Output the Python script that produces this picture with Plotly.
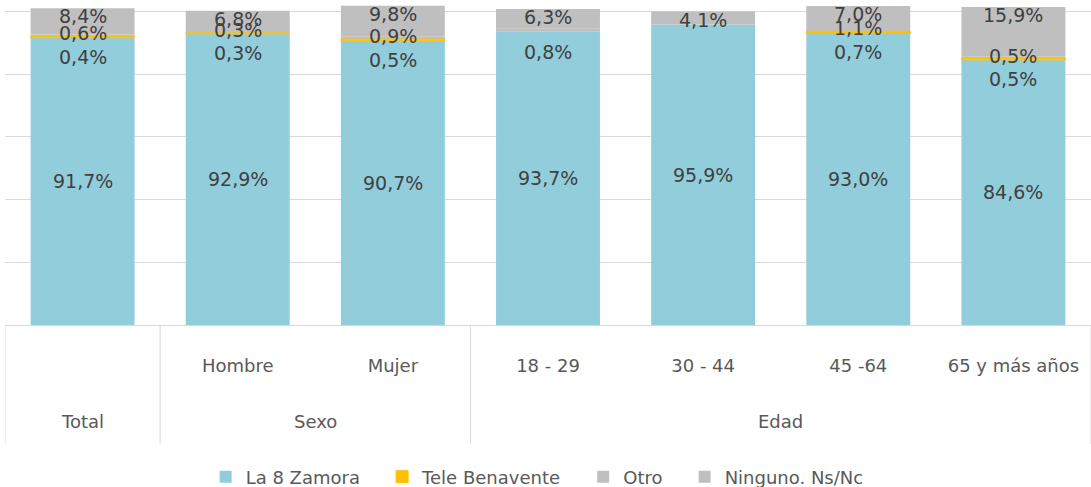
import plotly.graph_objects as go

# Data
categories = ["Total", "Hombre", "Mujer", "18 - 29", "30 - 44", "45 -64", "65 y más años"]
tick_labels = ["", "Hombre", "Mujer", "18 - 29", "30 - 44", "45 -64", "65 y más años"]
groups = ["Total", "Sexo", "Sexo", "Edad", "Edad", "Edad", "Edad"]

la8_zamora = [91.7, 92.9, 90.7, 93.7, 95.9, 93.0, 84.6]
tele_benavente = [0.4, 0.3, 0.5, 0.0, 0.0, 0.7, 0.5]
otro = [0.6, 0.3, 0.9, 0.8, 0.0, 1.1, 0.5]
ninguno = [8.4, 6.8, 9.8, 6.3, 4.1, 7.0, 15.9]

# Colors
COLORS = {
    'blue': '#92CDDC',
    'yellow': '#FFC000',
    'gray': '#BFBFBF',
    'grid': '#D9D9D9',
    'label': '#404040',
    'axis_text': '#595959',
}
FONT = "DejaVu Sans"
FS_LABEL = 19
FS_AXIS = 18

series = [
    ("La 8 Zamora", la8_zamora, COLORS['blue']),
    ("Tele Benavente", tele_benavente, COLORS['yellow']),
    ("Otro", otro, COLORS['gray']),
    ("Ninguno. Ns/Nc", ninguno, COLORS['gray']),
]

# stack by hand (explicit bases) so the thin yellow slices can be drawn last
bases = []
running = [0.0] * len(categories)
for _, vals, _ in series:
    bases.append(list(running))
    running = [r + v for r, v in zip(running, vals)]

draw_order = [0, 2, 3, 1]
fig = go.Figure()
for k in draw_order:
    name, vals, color = series[k]
    pad = "\u00a0" * 3 if k < len(series) - 1 else ""  # wider legend spacing
    is_thin = color == COLORS['yellow']
    lw = [1 if (is_thin and v > 0) else 0 for v in vals]
    fig.add_trace(go.Bar(
        x=categories, y=vals, base=bases[k], name=name + pad,
        legendrank=k + 1,
        marker=dict(color=color, line=dict(width=lw, color=color)),
    ))

# Data labels (placed like the original, nudged off the thin segments)
fmt = lambda v: f"{v:.1f}%".replace(".", ",")
annotations = []
for i, cat in enumerate(categories):
    base = la8_zamora[i]
    tb = tele_benavente[i]
    ot = otro[i]
    top = base + tb + ot + ninguno[i]
    items = [(base / 2, base, 0)]
    if tb > 0:
        items.append((base + tb / 2, tb, -20))
    if ot > 0:
        shift = 2 if tb > 0 else -22
        items.append((base + tb + ot / 2, ot, shift))
    if ninguno[i] > 0:
        items.append((top, ninguno[i], -8))
    for y, v, ys in items:
        annotations.append(dict(
            x=i, y=y, xref="x", yref="y", text=fmt(v), showarrow=False,
            yshift=ys, font=dict(family=FONT, size=FS_LABEL, color=COLORS['label']),
        ))

# Group labels and dividers
plot_h = 320
group_names = []
for g in groups:
    if g not in group_names:
        group_names.append(g)
shapes = []
bounds = [-0.5]
for g in group_names:
    idx = [i for i, gg in enumerate(groups) if gg == g]
    annotations.append(dict(
        x=(idx[0] + idx[-1]) / 2, y=-(421 - 325) / plot_h, xref="x", yref="paper",
        text=g, showarrow=False, yanchor="middle",
        font=dict(family=FONT, size=FS_AXIS, color=COLORS['axis_text']),
    ))
    bounds.append(idx[-1] + 0.5)
for b in bounds:
    shapes.append(dict(
        type="line", xref="x", yref="paper", x0=b, x1=b, y0=0, y1=-(444 - 325) / plot_h,
        line=dict(color=COLORS['grid'], width=1),
    ))

fig.update_layout(
    barmode="overlay",
    bargap=0.33,
    width=1091, height=487,
    margin=dict(l=5, r=0, t=5, b=162, autoexpand=False),
    plot_bgcolor="white", paper_bgcolor="white",
    font=dict(family=FONT, size=FS_AXIS, color=COLORS['axis_text']),
    annotations=annotations,
    shapes=shapes,
    legend=dict(
        orientation="h", x=0.49, xanchor="center", y=-(477 - 325) / plot_h, yanchor="middle",
        font=dict(family=FONT, size=FS_AXIS, color=COLORS['axis_text']),
        traceorder="normal",
    ),
    xaxis=dict(
        type="category", tickvals=categories, ticktext=tick_labels,
        showline=True, linecolor=COLORS['grid'], linewidth=1,
        ticks="", ticklabelstandoff=24,
        tickfont=dict(family=FONT, size=FS_AXIS, color=COLORS['axis_text']),
        range=[-0.5, 6.5],
    ),
    yaxis=dict(
        range=[0, 102.1], dtick=20, showticklabels=False,
        showgrid=True, gridcolor=COLORS['grid'], gridwidth=1,
        zeroline=False,
    ),
)

fig.write_html("out.html", config={"displayModeBar": False},
               post_script="document.body.style.margin='0';")
